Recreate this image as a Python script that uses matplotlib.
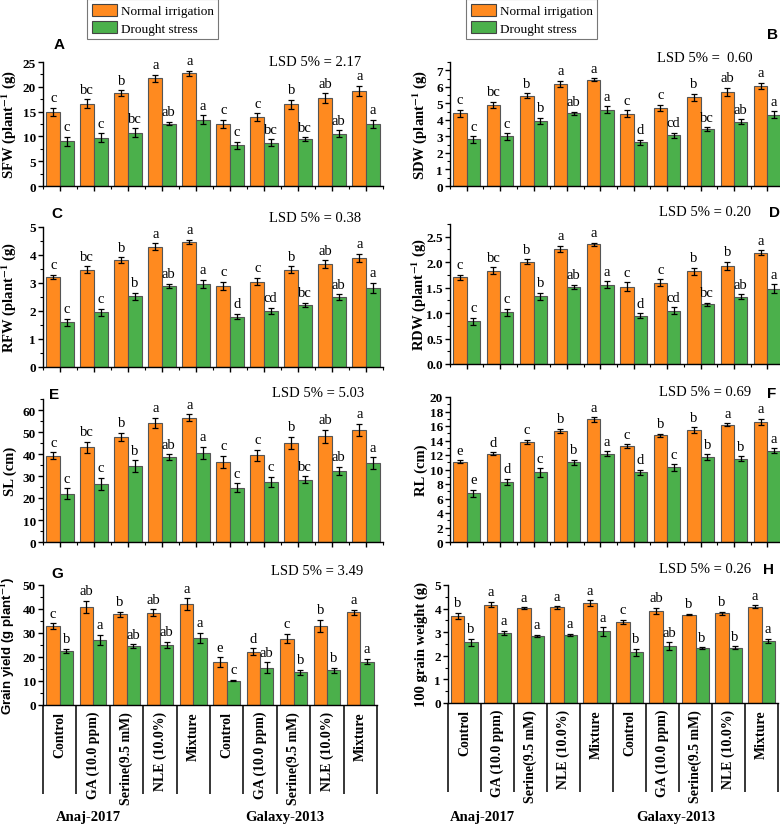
import numpy as np
import matplotlib
matplotlib.use("Agg")
import matplotlib.pyplot as plt
from matplotlib.patches import Patch
from matplotlib.ticker import AutoMinorLocator, FixedLocator, MultipleLocator
import matplotlib.transforms as mtransforms

plt.rcParams['font.family'] = ['Liberation Serif', 'DejaVu Serif']
plt.rcParams['mathtext.fontset'] = 'stix'

treatments = ['Control', 'GA (10.0 ppm)', 'Serine(9.5 mM)', 'NLE (10.0%)', 'Mixture',
              'Control', 'GA (10.0 ppm)', 'Serine(9.5 mM)', 'NLE (10.0%)', 'Mixture']
cultivars = ['Anaj-2017', 'Galaxy-2013']

# SFW
sfw_n = [15.0, 16.6, 18.7, 21.7, 22.7, 12.5, 13.9, 16.5, 17.7, 19.2]
sfw_n_err = [0.8, 0.9, 0.6, 0.7, 0.5, 0.9, 0.8, 0.9, 1.0, 1.0]
sfw_d = [9.0, 9.7, 10.7, 12.6, 13.4, 8.2, 8.7, 9.4, 10.5, 12.5]
sfw_d_err = [0.9, 0.9, 0.9, 0.4, 0.9, 0.7, 0.7, 0.4, 0.7, 0.9]
sfw_n_let = ['c', 'bc', 'b', 'a', 'a', 'c', 'c', 'b', 'ab', 'a']
sfw_d_let = ['c', 'c', 'bc', 'ab', 'a', 'c', 'bc', 'bc', 'ab', 'a']

# SDW
sdw_n = [4.40, 4.90, 5.45, 6.17, 6.43, 4.37, 4.72, 5.37, 5.68, 6.05]
sdw_n_err = [0.20, 0.20, 0.15, 0.20, 0.10, 0.20, 0.20, 0.20, 0.25, 0.20]
sdw_d = [2.82, 3.00, 3.92, 4.40, 4.62, 2.65, 3.08, 3.45, 3.88, 4.32]
sdw_d_err = [0.20, 0.20, 0.20, 0.10, 0.20, 0.15, 0.15, 0.10, 0.15, 0.20]
sdw_n_let = ['c', 'bc', 'b', 'a', 'a', 'c', 'c', 'b', 'ab', 'a']
sdw_d_let = ['c', 'c', 'b', 'ab', 'a', 'd', 'cd', 'bc', 'ab', 'a']

# RFW
rfw_n = [3.22, 3.47, 3.82, 4.30, 4.47, 2.90, 3.05, 3.47, 3.67, 3.90]
rfw_n_err = [0.08, 0.12, 0.10, 0.12, 0.07, 0.15, 0.13, 0.13, 0.15, 0.15]
rfw_d = [1.60, 1.95, 2.52, 2.90, 2.97, 1.80, 2.00, 2.22, 2.50, 2.83]
rfw_d_err = [0.13, 0.13, 0.13, 0.07, 0.15, 0.10, 0.12, 0.07, 0.10, 0.18]
rfw_n_let = ['c', 'bc', 'b', 'a', 'a', 'c', 'c', 'b', 'ab', 'a']
rfw_d_let = ['c', 'c', 'b', 'ab', 'a', 'd', 'cd', 'bc', 'ab', 'a']

# RDW
rdw_n = [1.70, 1.83, 2.01, 2.26, 2.35, 1.52, 1.60, 1.82, 1.93, 2.19]
rdw_n_err = [0.05, 0.07, 0.05, 0.06, 0.03, 0.09, 0.07, 0.07, 0.08, 0.04]
rdw_d = [0.84, 1.02, 1.33, 1.52, 1.56, 0.95, 1.05, 1.17, 1.32, 1.48]
rdw_d_err = [0.07, 0.07, 0.07, 0.04, 0.07, 0.05, 0.06, 0.03, 0.05, 0.09]
rdw_n_let = ['c', 'bc', 'b', 'a', 'a', 'c', 'c', 'b', 'b', 'a']
rdw_d_let = ['c', 'c', 'b', 'ab', 'a', 'd', 'cd', 'bc', 'ab', 'a']

# SL
sl_n = [39.2, 43.0, 47.7, 54.2, 56.5, 36.5, 39.5, 45.2, 48.0, 51.0]
sl_n_err = [1.5, 2.5, 2.0, 2.3, 1.5, 2.7, 2.5, 2.7, 3.0, 2.8]
sl_d = [22.0, 26.5, 34.5, 38.7, 40.6, 24.7, 27.3, 28.3, 32.3, 35.8]
sl_d_err = [2.5, 2.7, 2.7, 1.3, 2.7, 2.0, 2.3, 1.5, 2.0, 2.8]
sl_n_let = ['c', 'bc', 'b', 'a', 'a', 'c', 'c', 'b', 'ab', 'a']
sl_d_let = ['c', 'c', 'b', 'ab', 'a', 'c', 'c', 'bc', 'ab', 'a']

# RL
rl_n = [11.1, 12.2, 13.8, 15.3, 16.9, 13.2, 14.7, 15.4, 16.2, 16.6]
rl_n_err = [0.2, 0.2, 0.3, 0.3, 0.3, 0.25, 0.25, 0.4, 0.2, 0.4]
rl_d = [6.7, 8.3, 9.6, 11.0, 12.2, 9.6, 10.3, 11.7, 11.5, 12.6]
rl_d_err = [0.5, 0.4, 0.6, 0.35, 0.3, 0.35, 0.45, 0.4, 0.35, 0.35]
rl_n_let = ['e', 'd', 'c', 'b', 'a', 'c', 'b', 'b', 'a', 'a']
rl_d_let = ['e', 'd', 'c', 'b', 'a', 'd', 'c', 'b', 'b', 'a']

# Grain yield
gy_n = [32.8, 41.0, 37.8, 38.5, 42.0, 18.0, 22.2, 27.7, 33.0, 38.7]
gy_n_err = [1.3, 2.5, 1.0, 1.5, 2.5, 2.0, 1.5, 2.0, 2.5, 1.0]
gy_d = [22.6, 27.0, 24.5, 25.1, 27.9, 10.2, 15.6, 13.7, 14.4, 18.1]
gy_d_err = [0.8, 2.2, 0.8, 1.2, 2.2, 0.4, 2.2, 1.0, 1.2, 1.2]
gy_n_let = ['c', 'ab', 'b', 'ab', 'a', 'e', 'd', 'c', 'b', 'a']
gy_d_let = ['b', 'a', 'ab', 'ab', 'a', 'c', 'ab', 'b', 'b', 'a']

# 100 grain weight
gw_n = [3.70, 4.17, 4.02, 4.05, 4.22, 3.43, 3.90, 3.75, 3.80, 4.08]
gw_n_err = [0.13, 0.12, 0.04, 0.06, 0.13, 0.10, 0.13, 0.04, 0.06, 0.07]
gw_d = [2.57, 2.97, 2.85, 2.88, 3.03, 2.15, 2.40, 2.32, 2.35, 2.63]
gw_d_err = [0.15, 0.10, 0.04, 0.05, 0.17, 0.15, 0.17, 0.04, 0.05, 0.10]
gw_n_let = ['b', 'a', 'a', 'a', 'a', 'c', 'ab', 'b', 'b', 'a']
gw_d_let = ['b', 'a', 'a', 'a', 'a', 'b', 'ab', 'b', 'b', 'a']

ORANGE = '#FF8A1F'
GREEN = '#4BB04B'
W, H = 780, 828

fig = plt.figure(figsize=(7.8, 8.28), dpi=100)


def add_axes_px(x0, y0, x1, y1):
    # y0 = bottom pixel row, y1 = top pixel row
    return fig.add_axes([x0 / W, 1 - y0 / H, (x1 - x0) / W, (y0 - y1) / H])


def panel(ax, n, ne, d, de, nl, dl, ymax, ystep, ylabel, lsd, tag, lsd_xy, tag_xy,
          fmt=None, bottom=False, ylab_px=18, ylab_fs=10.5, ylab_family=None):
    x = np.arange(len(n))
    ax.bar(x - 0.2, n, 0.4, color=ORANGE, edgecolor='#555555', linewidth=0.8, zorder=2)
    ax.bar(x + 0.2, d, 0.4, color=GREEN, edgecolor='#555555', linewidth=0.8, zorder=2)
    ax.errorbar(x - 0.2, n, yerr=ne, fmt='none', ecolor='black', elinewidth=0.9,
                capsize=2, capthick=0.9, zorder=3)
    ax.errorbar(x + 0.2, d, yerr=de, fmt='none', ecolor='black', elinewidth=0.9,
                capsize=2, capthick=0.9, zorder=3)
    for i in range(len(n)):
        ax.annotate(nl[i], (x[i] - 0.2, n[i] + ne[i]), xytext=(0, 2.5),
                    textcoords='offset points', ha='center', va='bottom', fontsize=10.5)
        ax.annotate(dl[i], (x[i] + 0.2, d[i] + de[i]), xytext=(0, 2.5),
                    textcoords='offset points', ha='center', va='bottom', fontsize=10.5)
    ax.set_xlim(-0.5, len(n) - 0.5)
    ax.set_ylim(0, ymax)
    ax.yaxis.set_major_locator(MultipleLocator(ystep))
    ax.yaxis.set_minor_locator(AutoMinorLocator(2))
    if fmt:
        ax.yaxis.set_major_formatter(fmt)
    for s in ['top', 'right']:
        ax.spines[s].set_visible(False)
    for s in ['left', 'bottom']:
        ax.spines[s].set_linewidth(1.0)
    ax.tick_params(axis='y', which='major', length=3.5, width=1, labelsize=9.5, pad=1.5)
    ax.tick_params(axis='y', which='minor', length=2, width=0.8)
    for t in ax.get_yticklabels():
        t.set_fontweight('bold')
    ax.xaxis.set_minor_locator(FixedLocator(np.arange(-0.5, len(n), 1.0)))
    ax.set_xticks(x)
    ax.set_xticklabels([])
    if bottom:
        ax.tick_params(axis='x', which='major', length=0)
        ax.tick_params(axis='x', which='minor', length=64, width=1.1, color='black')
        trans = mtransforms.blended_transform_factory(ax.transData, ax.transAxes)
        for i, lab in enumerate(treatments):
            ax.text(i, -0.05, lab, transform=trans, rotation=90, ha='center', va='top',
                    fontsize=10, fontweight='bold')
    else:
        ax.tick_params(axis='x', which='major', length=3.5, width=1)
        ax.tick_params(axis='x', which='minor', length=2, width=0.8)
    kw = {}
    if ylab_family:
        kw['family'] = ylab_family
    ax.set_ylabel(ylabel, fontsize=ylab_fs, fontweight='bold', **kw)
    # ylab_px: pixel column of the label's right edge
    pos = ax.get_position()
    ax.yaxis.set_label_coords((ylab_px / W - pos.x0) / pos.width, 0.5)
    fig.text(lsd_xy[0] / W, 1 - lsd_xy[1] / H, lsd, ha='center', va='center', fontsize=10.5)
    fig.text(tag_xy[0] / W, 1 - tag_xy[1] / H, tag, ha='center', va='center', fontsize=11,
             fontweight='bold', family='Liberation Sans')


axA = add_axes_px(43, 187, 383, 63)
panel(axA, sfw_n, sfw_n_err, sfw_d, sfw_d_err, sfw_n_let, sfw_d_let, 25, 5,
      'SFW (plant$^{\\mathbf{-1}}$ (g)', 'LSD 5% = 2.17', 'A', (315, 62), (59, 45))
axB = add_axes_px(450, 187, 784, 63)
panel(axB, sdw_n, sdw_n_err, sdw_d, sdw_d_err, sdw_n_let, sdw_d_let, 7.5, 1,
      'SDW (plant$^{\\mathbf{-1}}$ (g)', 'LSD 5% =  0.60', 'B', (705, 58), (772, 35),
      ylab_px=429)
axC = add_axes_px(43, 368, 383, 228)
panel(axC, rfw_n, rfw_n_err, rfw_d, rfw_d_err, rfw_n_let, rfw_d_let, 5, 1,
      'RFW (plant$^{\\mathbf{-1}}$ (g)', 'LSD 5% = 0.38', 'C', (315, 218), (57, 214))
axD = add_axes_px(450, 365, 784, 225)
panel(axD, rdw_n, rdw_n_err, rdw_d, rdw_d_err, rdw_n_let, rdw_d_let, 2.75, 0.5,
      'RDW (plant$^{\\mathbf{-1}}$ (g)', 'LSD 5% = 0.20', 'D', (705, 213), (774, 213),
      fmt='{x:.1f}', ylab_px=428)
axE = add_axes_px(43, 543, 383, 400)
panel(axE, sl_n, sl_n_err, sl_d, sl_d_err, sl_n_let, sl_d_let, 65, 10,
      'SL (cm)', 'LSD 5% = 5.03', 'E', (318, 394), (54, 395), ylab_px=17)
axF = add_axes_px(450, 543, 784, 398)
panel(axF, rl_n, rl_n_err, rl_d, rl_d_err, rl_n_let, rl_d_let, 20, 2,
      'RL (cm)', 'LSD 5% = 0.69', 'F', (705, 393), (772, 394), ylab_px=428)
axG = add_axes_px(43, 706, 377, 586)
panel(axG, gy_n, gy_n_err, gy_d, gy_d_err, gy_n_let, gy_d_let, 50, 10,
      'Grain yield (g plant$^{\\mathbf{-1}}$)', 'LSD 5% = 3.49', 'G', (317, 572), (57, 574),
      bottom=True, ylab_px=17, ylab_fs=9.5, ylab_family='Liberation Sans')
axH = add_axes_px(448, 704, 778, 586)
panel(axH, gw_n, gw_n_err, gw_d, gw_d_err, gw_n_let, gw_d_let, 5, 1,
      '100 grain weight (g)', 'LSD 5% = 0.26', 'H', (705, 570), (769, 570),
      bottom=True, ylab_px=428)

# cultivar labels under the bottom panels
for cx, name in [(88, cultivars[0]), (285, cultivars[1]), (482, cultivars[0]), (676, cultivars[1])]:
    fig.text(cx / W, 1 - 818 / H, name, ha='center', va='center', fontsize=10.5, fontweight='bold')

# legends
handles = [Patch(facecolor=ORANGE, edgecolor='#444444', linewidth=0.8, label='Normal irrigation'),
           Patch(facecolor=GREEN, edgecolor='#444444', linewidth=0.8, label='Drought stress')]
for lx in (87, 466):
    leg = fig.legend(handles=handles, loc='upper left', bbox_to_anchor=(lx / W, 1.0),
                     fontsize=9.5, frameon=True, fancybox=False, edgecolor='#555555',
                     handlelength=1.9, handleheight=1.1, borderpad=0.35, labelspacing=0.25,
                     handletextpad=0.3, borderaxespad=0.0)
    leg.get_frame().set_linewidth(0.8)

fig.savefig('out.png', dpi=100)
